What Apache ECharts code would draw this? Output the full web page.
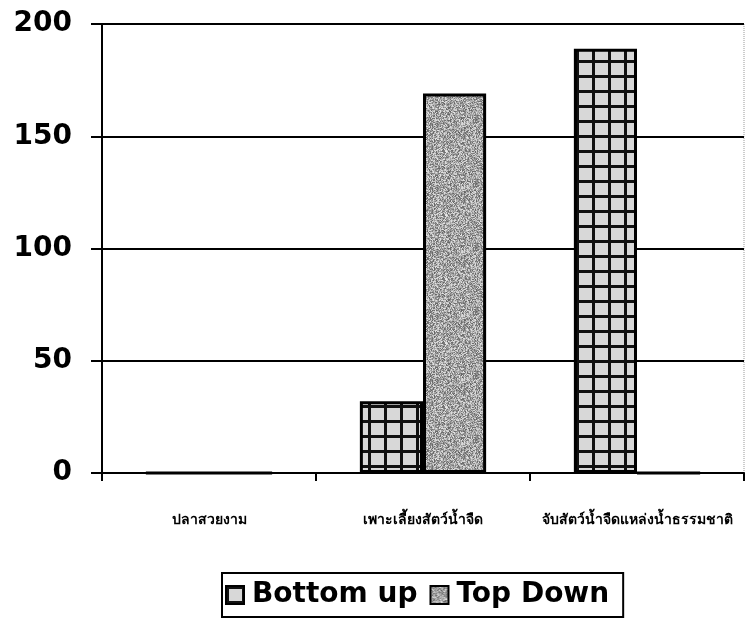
<!DOCTYPE html>
<html lang="th">
<head>
    <meta charset="UTF-8">
    <title>chart</title>
    <style>
        html,body{ padding:0; margin:0; width:100%; height:100%; background:#fff; }
        .map{ width:745px; height:619px; }
    </style>
    <script src="https://cdn.jsdelivr.net/npm/echarts@6/dist/echarts.min.js"></script>
</head>
<body>
<div class="map"></div>
<script>
    let categories = ['ปลาสวยงาม', 'เพาะเลี้ยงสัตว์น้ำจืด', 'จับสัตว์น้ำจืดแหล่งน้ำธรรมชาติ'];
    let bottomUp = [0, 32, 189];
    let topDown = [0, 169, 0];

    // grid look for "Bottom up"
    function gridPattern(){
        let c = document.createElement('canvas');
        c.width = 16; c.height = 15;
        let g = c.getContext('2d');
        g.fillStyle = '#d8d8d8';
        g.fillRect(0,0,16,15);
        g.fillStyle = '#111';
        g.fillRect(0,0,16,3);
        g.fillRect(0,0,3,15);
        return c;
    }
    // speckle for "Top Down"
    function noisePattern(){
        let c = document.createElement('canvas');
        c.width = 64; c.height = 64;
        let g = c.getContext('2d');
        let img = g.createImageData(64,64);
        let s = 7;
        for(let i=0;i<64*64;i++){
            s = (s*16807) % 2147483647;
            let v = 100 + (s % 130);
            img.data[i*4] = v; img.data[i*4+1] = v; img.data[i*4+2] = v; img.data[i*4+3] = 255;
        }
        g.putImageData(img,0,0);
        return c;
    }

    let myChart = echarts.init(document.querySelector('.map'));

    let boldFont = 'DejaVu Sans';

    let option = {
        animation: false,
        backgroundColor: '#fff',
        grid: { left: 102, right: 1, top: 24, bottom: 146, show: true, borderColor: '#999', borderWidth: 1, borderType: 'dotted' },
        legend: {
            bottom: 2,
            left: 222,
            data: ['Bottom up', 'Top Down'],
            icon: 'rect',
            borderColor: '#000',
            borderWidth: 2,
            padding: [8, 14, 8, 3],
            itemWidth: 18,
            itemHeight: 18,
            itemGap: 12,
            textStyle: { fontFamily: boldFont, fontWeight: 'bold', fontSize: 28, color: '#000', padding: [0, 0, 0, 3] }
        },
        xAxis: {
            type: 'category',
            data: categories,
            axisLine: { lineStyle: { color: '#000', width: 2 } },
            axisTick: { show: true, interval: 0, length: 8, lineStyle: { color: '#000', width: 2 } },
            axisLabel: { interval: 0, margin: 40, fontFamily: 'Noto Sans, DejaVu Sans', fontWeight: 'bold', fontSize: 14, color: '#000' }
        },
        yAxis: {
            type: 'value',
            min: 0, max: 200, interval: 50,
            axisLine: { show: true, lineStyle: { color: '#000', width: 2 } },
            axisTick: { show: true, length: 11, lineStyle: { color: '#000', width: 2 } },
            axisLabel: { margin: 30, fontFamily: boldFont, fontWeight: 'bold', fontSize: 28, color: '#000' },
            splitLine: { lineStyle: { color: '#000', width: 2 } }
        },
        series: [
            {
                name: 'Bottom up', type: 'bar', data: bottomUp,
                barGap: '0%', barCategoryGap: '41%',
                itemStyle: { color: { image: gridPattern(), repeat: 'repeat' }, borderColor: '#000', borderWidth: 3 }
            },
            {
                name: 'Top Down', type: 'bar', data: topDown,
                itemStyle: { color: { image: noisePattern(), repeat: 'repeat' }, borderColor: '#000', borderWidth: 3 }
            }
        ]
    };
    myChart.setOption(option);
</script>
</body>
</html>
